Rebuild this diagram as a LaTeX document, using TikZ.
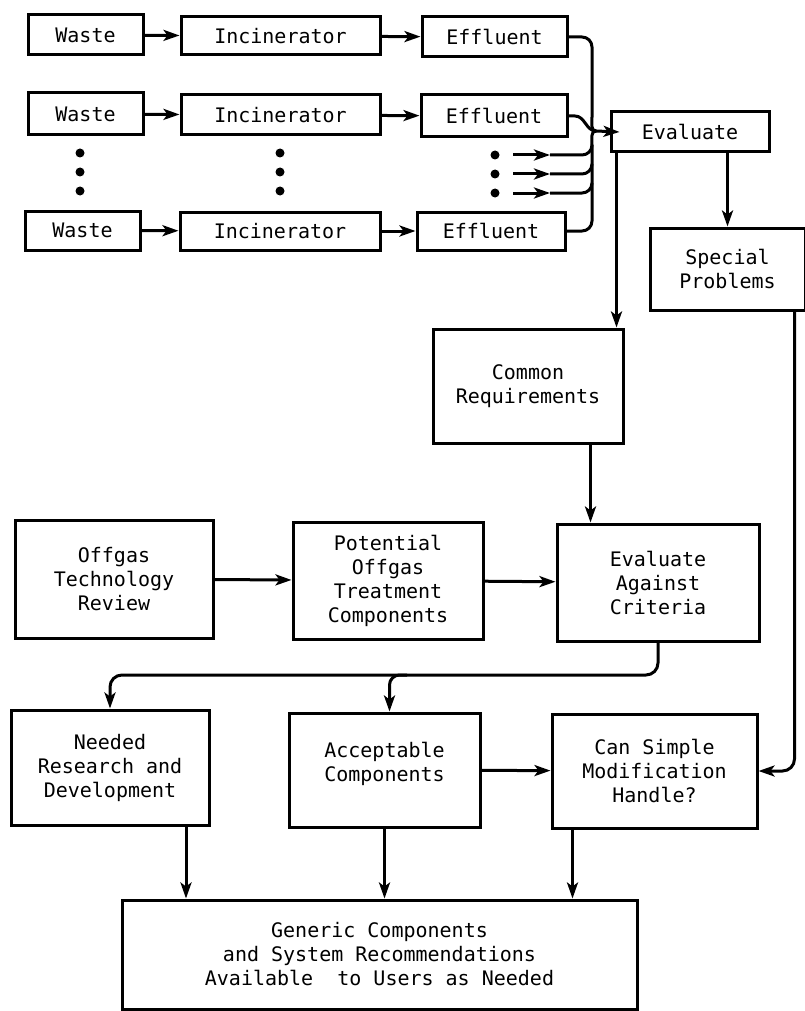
\documentclass[tikz,border=0pt]{standalone}
\usepackage{fontspec}
\setmonofont{DejaVu Sans Mono}
\usepackage{tikz}
\usetikzlibrary{arrows, arrows.meta, calc}
\tikzstyle{process} = [rectangle, draw=black, line width=3pt, align=center, inner sep=0pt]
\tikzstyle{arrow} = [-{Stealth[length=16pt, width=11pt, inset=4pt]}, line width=3pt]
\tikzstyle{line} = [line width=3pt]

\begin{document}
\begin{tikzpicture}[x=1pt, y=-1pt, font=\ttfamily\fontsize{20}{24}\selectfont]

		\useasboundingbox (0,0) rectangle (805,1011);

		% waste streams
		\node (waste1)[process, minimum width=115, minimum height=40] at (85.5,35) {Waste};
		\node (incin1)[process, minimum width=199, minimum height=38] at (280.5,36) {Incinerator};
		\node (eff1)[process, minimum width=145, minimum height=40] at (494.5,37) {Effluent};

		\node (waste2)[process, minimum width=115, minimum height=42] at (85.5,114) {Waste};
		\node (incin2)[process, minimum width=199, minimum height=40] at (280.5,115) {Incinerator};
		\node (eff2)[process, minimum width=146, minimum height=42] at (494,116) {Effluent};

		\node (waste3)[process, minimum width=115, minimum height=39] at (82.5,230.5) {Waste};
		\node (incin3)[process, minimum width=200, minimum height=38] at (280,231) {Incinerator};
		\node (eff3)[process, minimum width=148, minimum height=38] at (491,231) {Effluent};

		% evaluation
		\node (eval)[process, minimum width=158, minimum height=40] at (690,132) {Evaluate};
		\node (special)[process, minimum width=155, minimum height=82] at (727.5,269) {Special\\Problems};
		\node (common)[process, minimum width=190, minimum height=114] at (528,386) {Common\\Requirements};

		% offgas treatment
		\node (offgas)[process, minimum width=198, minimum height=118] at (114,579) {Offgas\\Technology\\Review};
		\node (potential)[process, minimum width=190, minimum height=117] at (388,580.5) {Potential\\Offgas\\Treatment\\Components};
		\node (criteria)[process, minimum width=202, minimum height=117] at (658,582.5) {Evaluate\\Against\\Criteria};

		% results
		\node (needed)[process, minimum width=198, minimum height=115] at (110,767.5) {Needed\\Research and\\Development};
		\node (accept)[process, minimum width=191, minimum height=114] at (384.5,770) {Acceptable\\Components\\[-8pt]\mbox{}};
		\node (simple)[process, minimum width=205, minimum height=114] at (654.5,771) {Can Simple\\Modification\\Handle?};
		\node (generic)[process, minimum width=515, minimum height=109] at (379.5,954.5) {Generic Components\\and System Recommendations\\Available\ \ to Users as Needed};

		% dots
		\fill (80,153) circle (4.5);
		\fill (80,172) circle (4.5);
		\fill (80,191) circle (4.5);
		\fill (280,153) circle (4.5);
		\fill (280,172) circle (4.5);
		\fill (280,191) circle (4.5);
		\fill (495,155) circle (4.5);
		\fill (495,174) circle (4.5);
		\fill (495,193) circle (4.5);

		% joints
		\coordinate (merge) at (596,131);
		\coordinate (in1) at (513,155);
		\coordinate (in2) at (513,174);
		\coordinate (in3) at (513,193);
		\coordinate (tip1) at (550,155);
		\coordinate (tip2) at (550,174);
		\coordinate (tip3) at (550,193);
		\coordinate (branch) at (395,675);

		% lines and arrows
		\draw[arrow](waste1) -- (incin1);
		\draw[arrow](incin1) -- (eff1);
		\draw[arrow](waste2) -- (incin2);
		\draw[arrow](incin2) -- (eff2);
		\draw[arrow](waste3) -- (incin3);
		\draw[arrow](incin3) -- (eff3);

		\draw[line](eff1.east) -- (582,37) to[out=0,in=90] (592,47) -- (592,117) to[out=-90,in=180] (merge);
		\draw[line](eff2.east) -- (575,116) to[out=0,in=180] (merge);
		\draw[line](eff3.east) -- (582,231) to[out=0,in=-90] (592,221) -- (592,145) to[out=90,in=180] (merge);

		\draw[arrow](in1) -- (tip1);
		\draw[arrow](in2) -- (tip2);
		\draw[arrow](in3) -- (tip3);
		\draw[line](tip1) -- (582,155) to[out=0,in=-90] (592,145);
		\draw[line](tip2) -- (582,174) to[out=0,in=-90] (592,164);
		\draw[line](tip3) -- (582,193) to[out=0,in=-90] (592,183);

		\draw[arrow](merge) -- ([xshift=10pt]eval.west);

		\draw[arrow]([xshift=7pt]eval.south west) -- ([xshift=7pt]eval.south west |- common.north);
		\draw[arrow](eval.south -| special.north) -- (special.north);
		\draw[arrow]([xshift=-34pt]common.south east) -- ([xshift=-34pt]common.south east |- criteria.north);

		\draw[arrow](offgas) -- (potential);
		\draw[arrow](potential) -- (criteria);

		\draw[arrow, rounded corners=12pt](criteria.south) |- (branch) -| (needed.north);
		\draw[arrow, rounded corners=10pt]([xshift=12pt]branch) -| ([xshift=5pt]accept.north);

		\draw[arrow](accept) -- (simple);
		\draw[arrow, rounded corners=12pt]([xshift=-12pt]special.south east) |- (simple.east);

		\draw[arrow]([xshift=76pt]needed.south) -- ([xshift=76pt]needed.south |- generic.north);
		\draw[arrow](accept.south) -- (accept.south |- generic.north);
		\draw[arrow]([xshift=22pt]simple.south west) -- ([xshift=22pt]simple.south west |- generic.north);

	\end{tikzpicture}
\end{document}
